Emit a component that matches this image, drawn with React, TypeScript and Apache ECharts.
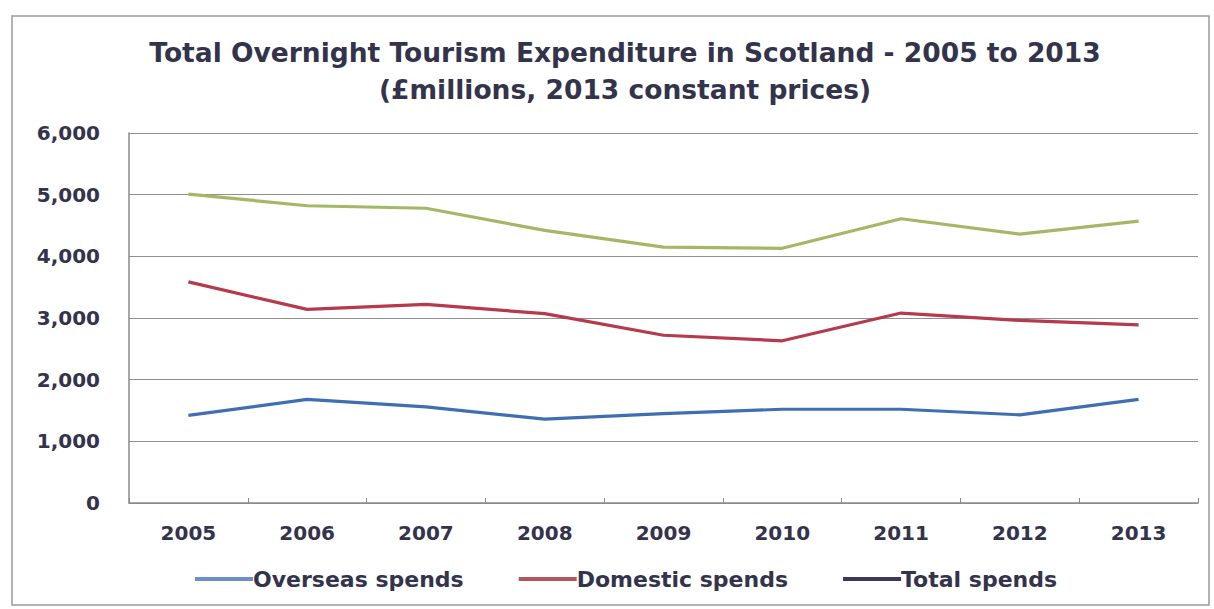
import React, { useEffect, useRef } from "react";
import * as echarts from "echarts";

const years = ["2005", "2006", "2007", "2008", "2009", "2010", "2011", "2012", "2013"];
const overseas = [1420, 1680, 1560, 1360, 1450, 1520, 1520, 1430, 1680];
const domestic = [3585, 3140, 3220, 3070, 2720, 2630, 3080, 2960, 2890];
const total = [5010, 4820, 4780, 4420, 4150, 4130, 4610, 4360, 4570];
const yTicks = [0, 1000, 2000, 3000, 4000, 5000, 6000];

const TEXT = "#33334c";
const FONT = "DejaVu Sans";

export default function App() {
  const ref = useRef<HTMLDivElement>(null);
  useEffect(() => {
    if (!ref.current) return;
    const chart = echarts.init(ref.current, null, { renderer: "svg" });
    chart.setOption({
      animation: false,
      backgroundColor: "#ffffff",
      title: {
        text: "Total Overnight Tourism Expenditure in Scotland - 2005 to 2013\n(£millions, 2013 constant prices)",
        left: 620,
        textAlign: "center",
        top: 29,
        textStyle: {
          fontFamily: FONT,
          fontWeight: "bold",
          fontSize: 26.5,
          color: TEXT,
          lineHeight: 37,
        },
      },
      graphic: [
        {
          type: "rect",
          shape: { x: 12, y: 16, width: 1197, height: 589 },
          style: { fill: "none", stroke: "#9a9a9a", lineWidth: 1.5 },
          silent: true,
        },
      ],
      grid: { left: 129, right: 16, top: 133, bottom: 106 },
      legend: {
        top: 563,
        left: 190,
        itemWidth: 58,
        itemHeight: 4,
        itemGap: 55,
        icon: "rect",
        textStyle: { fontFamily: FONT, fontWeight: "bold", fontSize: 22, color: TEXT, padding: [0, 0, 0, -5] },
        data: [
          { name: "Overseas spends", itemStyle: { color: "#6b8fc6" } },
          { name: "Domestic spends", itemStyle: { color: "#b2565f" } },
          { name: "Total spends", itemStyle: { color: "#3a3a58" } },
        ],
      },
      xAxis: {
        type: "category",
        data: years,
        boundaryGap: true,
        axisLine: { show: true, lineStyle: { color: "#8a8a8a", width: 1.5 } },
        axisTick: { show: true, inside: true, length: 5, lineStyle: { color: "#8a8a8a" } },
        axisLabel: {
          fontFamily: FONT,
          fontWeight: "bold",
          fontSize: 20,
          color: TEXT,
          margin: 20,
        },
      },
      yAxis: {
        type: "value",
        min: yTicks[0],
        max: yTicks[yTicks.length - 1],
        interval: 1000,
        axisLine: { show: true, lineStyle: { color: "#8a8a8a", width: 1.5 } },
        axisTick: { show: false },
        splitLine: { show: true, lineStyle: { color: "#8f8f8f", width: 1.2 } },
        axisLabel: {
          fontFamily: FONT,
          fontWeight: "bold",
          fontSize: 20,
          color: TEXT,
          margin: 29,
          formatter: (v: number) => v.toLocaleString("en-US"),
        },
      },
      series: [
        {
          name: "Overseas spends",
          type: "line",
          data: overseas,
          symbol: "none",
          lineStyle: { color: "#3f6fb2", width: 3.2 },
          itemStyle: { color: "#3f6fb2" },
        },
        {
          name: "Domestic spends",
          type: "line",
          data: domestic,
          symbol: "none",
          lineStyle: { color: "#b73a4c", width: 3.2 },
          itemStyle: { color: "#b73a4c" },
        },
        {
          name: "Total spends",
          type: "line",
          data: total,
          symbol: "none",
          lineStyle: { color: "#a3b865", width: 3.2 },
          itemStyle: { color: "#a3b865" },
        },
      ],
    });
    return () => chart.dispose();
  }, []);
  return (
    <div
      ref={ref}
      style={{ position: "absolute", left: 0, top: 0, width: 1214, height: 609 }}
    />
  );
}
